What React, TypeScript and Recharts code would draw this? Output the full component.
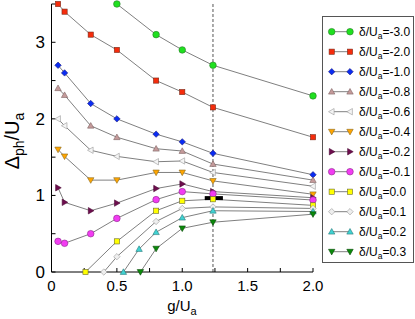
import React from 'react';
import { LineChart, Line, XAxis, YAxis, ReferenceLine } from 'recharts';

const FONT = '"Liberation Sans", Arial, Helvetica, sans-serif';

// axis ticks
const gTicks = [0, 0.25, 0.5, 0.75, 1, 1.25, 1.5, 1.75, 2];
const gTickLabels: Record<string, string> = { '0': '0', '0.5': '0.5', '1': '1.0', '1.5': '1.5', '2': '2.0' };
const yTicks = [0, 0.5, 1, 1.5, 2, 2.5, 3, 3.5];
const yTickLabels: Record<string, string> = { '0': '0', '1': '1', '2': '2', '3': '3' };

// g/Ua positions
const gAll = [0.05, 0.1, 0.3, 0.5, 0.8, 1.0, 1.235, 2.0];
const gM30 = [0.5, 0.8, 1.0, 1.235, 2.0];
const g00 = [0.26, 0.5, 0.8, 1.0, 1.235, 2.0];
const g01 = [0.4, 0.5, 0.8, 1.0, 1.235, 2.0];
const g02 = [0.55, 0.67, 0.8, 1.0, 1.235, 2.0];
const g03 = [0.68, 0.8, 1.0, 1.235, 2.0];

// Δph/Ua values per δ/Ua
const yM30 = [3.5, 3.1, 2.9, 2.7, 2.3];
const yM20 = [3.5, 3.4, 3.1, 2.9, 2.5, 2.35, 2.15, 1.76];
const yM10 = [2.7, 2.6, 2.2, 2.0, 1.8, 1.7, 1.55, 1.27];
const yM08 = [2.4, 2.31, 1.91, 1.76, 1.61, 1.58, 1.41, 1.2];
const yM06 = [2.0, 1.91, 1.59, 1.51, 1.44, 1.45, 1.3, 1.12];
const yM04 = [1.6, 1.51, 1.2, 1.2, 1.3, 1.3, 1.19, 1.015];
const yM02 = [1.1, 0.91, 0.8, 0.9, 1.09, 1.15, 1.05, 0.97];
const yM01 = [0.4, 0.375, 0.5, 0.7, 0.945, 1.05, 1.02, 0.94];
const y00 = [0, 0.4, 0.8, 0.93, 0.95, 0.87];
const y01 = [0, 0.2, 0.66, 0.83, 0.85, 0.83];
const y02 = [0, 0.3, 0.52, 0.71, 0.8, 0.79];
const y03 = [0, 0.305, 0.57, 0.65, 0.755];

// critical point marker and dashed guide
const gCritical = 1.235;
const barG = [1.172, 1.311];
const barY = [0.965, 0.965];

const legendLabels = ['-3.0', '-2.0', '-1.0', '-0.8', '-0.6', '-0.4', '-0.2', '-0.1', '0.0', '0.1', '0.2', '0.3'];

type Shape = 'circle' | 'square' | 'diamond' | 'up' | 'down' | 'left' | 'right';

const zip = (g: number[], y: number[]) => g.map((v, i) => ({ g: v, y: y[i] }));

const series = [
  { g: gM30, y: yM30, shape: 'circle', fill: '#1fe01f', stroke: '#2a7a2a' },
  { g: gAll, y: yM20, shape: 'square', fill: '#f52c0c', stroke: '#7a2a1a' },
  { g: gAll, y: yM10, shape: 'diamond', fill: '#0a2cf2', stroke: '#1a1a7a' },
  { g: gAll, y: yM08, shape: 'up', fill: '#c49a9a', stroke: '#806464' },
  { g: gAll, y: yM06, shape: 'left', fill: '#f4f4f4', stroke: '#999999' },
  { g: gAll, y: yM04, shape: 'down', fill: '#ffa500', stroke: '#8a6a20' },
  { g: gAll, y: yM02, shape: 'right', fill: '#6e0d4e', stroke: '#4a0a34' },
  { g: gAll, y: yM01, shape: 'circle', fill: '#f23cf2', stroke: '#8a2a8a' },
  { g: g00, y: y00, shape: 'square', fill: '#ffff00', stroke: '#6a6a30' },
  { g: g01, y: y01, shape: 'diamond', fill: '#eeeeee', stroke: '#999999' },
  { g: g02, y: y02, shape: 'up', fill: '#40d2d2', stroke: '#2a7a7a' },
  { g: g03, y: y03, shape: 'down', fill: '#0a8a0a', stroke: '#0a4a0a' },
].map((s, i) => ({ ...s, shape: s.shape as Shape, label: legendLabels[i], data: zip(s.g, s.y) }));

const Marker = ({ cx, cy, shape, fill, stroke }: { cx: number; cy: number; shape: Shape; fill: string; stroke: string }) => {
  const p = { fill, stroke, strokeWidth: 0.6 };
  const r = 3.2;
  switch (shape) {
    case 'circle':
      return <circle cx={cx} cy={cy} r={3.3} {...p} />;
    case 'square':
      return <rect x={cx - 2.6} y={cy - 2.6} width={5.2} height={5.2} {...p} />;
    case 'diamond':
      return <polygon points={`${cx},${cy - r} ${cx + r},${cy} ${cx},${cy + r} ${cx - r},${cy}`} {...p} />;
    case 'up':
      return <polygon points={`${cx},${cy - r} ${cx + r},${cy + 2.4} ${cx - r},${cy + 2.4}`} {...p} />;
    case 'down':
      return <polygon points={`${cx},${cy + r} ${cx + r},${cy - 2.4} ${cx - r},${cy - 2.4}`} {...p} />;
    case 'left':
      return <polygon points={`${cx - r},${cy} ${cx + 2.4},${cy - r} ${cx + 2.4},${cy + r}`} {...p} />;
    default:
      return <polygon points={`${cx + r},${cy} ${cx - 2.4},${cy - r} ${cx - 2.4},${cy + r}`} {...p} />;
  }
};

const YLabel = () => (
  <text x={19} y={141} transform="rotate(-90, 19, 141)" textAnchor="middle" fontFamily={FONT} fontSize={20} fill="#000">
    Δ<tspan fontSize={14} dy={5}>ph</tspan>
    <tspan dy={-5}>/U</tspan>
    <tspan fontSize={14} dy={5}>a</tspan>
  </text>
);

const XLabel = () => (
  <text x={182} y={311} textAnchor="middle" fontFamily={FONT} fontSize={15} fill="#000">
    g/U<tspan fontSize={11} dy={4}>a</tspan>
  </text>
);

const Legend = () => (
  <svg width={93} height={248} style={{ position: 'absolute', left: 322, top: 16 }}>
    <rect x={0.5} y={0.5} width={91} height={246} fill="#fff" stroke="#555" strokeWidth={1} />
    {series.map((s, i) => {
      const cy = 15.7 + 20 * i;
      return (
        <g key={s.label}>
          <line x1={9.7} x2={28} y1={cy} y2={cy} stroke="#808080" strokeWidth={1} />
          <Marker cx={9.7} cy={cy} shape={s.shape} fill={s.fill} stroke={s.stroke} />
          <Marker cx={28} cy={cy} shape={s.shape} fill={s.fill} stroke={s.stroke} />
          <text x={37} y={cy + 4} fontFamily={FONT} fontSize={12} fill="#000">
            δ/U<tspan fontSize={8.5} dy={3}>a</tspan>
            <tspan dy={-3}>={s.label}</tspan>
          </text>
        </g>
      );
    })}
  </svg>
);

const tickStyle = { fontFamily: FONT, fill: '#000' };

export default function App() {
  return (
    <div style={{ position: 'absolute', left: 0, top: 0, width: 415, height: 319, background: '#fff', fontFamily: FONT }}>
      <LineChart width={415} height={319} margin={{ top: 4, right: 102, bottom: 0, left: 11.5 }}>
        <XAxis
          xAxisId="b"
          dataKey="g"
          type="number"
          domain={[0, 2]}
          ticks={gTicks}
          height={47}
          allowDuplicatedCategory={false}
          stroke="#000"
          tickSize={-4}
          tickMargin={12}
          tick={{ ...tickStyle, fontSize: 15 }}
          tickFormatter={(v: number) => gTickLabels[String(v)] ?? ''}
          label={<XLabel />}
        />
        <XAxis
          xAxisId="t"
          orientation="top"
          type="number"
          domain={[0, 2]}
          ticks={gTicks}
          height={0}
          stroke="#000"
          tickSize={-4}
          tickFormatter={() => ''}
        />
        <YAxis
          yAxisId="l"
          type="number"
          domain={[0, 3.5]}
          ticks={yTicks}
          width={40}
          stroke="#000"
          tickSize={-4}
          tickMargin={10.5}
          tick={{ ...tickStyle, fontSize: 17 }}
          tickFormatter={(v: number) => yTickLabels[String(v)] ?? ''}
          label={<YLabel />}
        />
        <YAxis
          yAxisId="r"
          orientation="right"
          type="number"
          domain={[0, 3.5]}
          ticks={yTicks}
          width={0}
          stroke="#000"
          tickSize={-4}
          tickFormatter={() => ''}
        />
        <ReferenceLine xAxisId="b" yAxisId="l" x={gCritical} stroke="#555" strokeDasharray="3 2" strokeWidth={1} />
        {series.map((s) => (
          <Line
            key={s.label}
            xAxisId="b"
            yAxisId="l"
            data={s.data}
            dataKey="y"
            stroke="#808080"
            strokeWidth={1}
            isAnimationActive={false}
            dot={(p: any) => (
              <Marker key={`${s.label}-${p.index}`} cx={p.cx} cy={p.cy} shape={s.shape} fill={s.fill} stroke={s.stroke} />
            )}
          />
        ))}
        <Line
          xAxisId="b"
          yAxisId="l"
          data={zip(barG, barY)}
          dataKey="y"
          stroke="#000"
          strokeWidth={4}
          dot={false}
          isAnimationActive={false}
        />
      </LineChart>
      <Legend />
    </div>
  );
}
